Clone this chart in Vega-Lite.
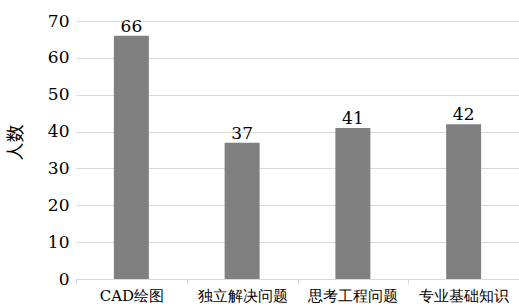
{
  "$schema": "https://vega.github.io/schema/vega-lite/v6.json",
  "autosize": "none",
  "padding": {"left": 76, "top": 21, "right": 0, "bottom": 28},
  "width": 443,
  "height": 258,
  "background": "white",
  "config": {"view": {"stroke": null}, "font": "DejaVu Serif"},
  "data": {"values": [
    {"category": "CAD绘图", "count": 66},
    {"category": "独立解决问题", "count": 37},
    {"category": "思考工程问题", "count": 41},
    {"category": "专业基础知识", "count": 42}
  ]},
  "encoding": {
    "x": {"field": "category", "type": "nominal", "sort": null,
      "scale": {"paddingInner": 0, "paddingOuter": 0},
      "axis": {"title": null, "labelAngle": 0, "labelFontSize": 15, "labelColor": "#000", "labelFont": "DejaVu Serif",
        "domainColor": "#d9d9d9", "tickColor": "#d9d9d9", "tickBand": "extent", "tickSize": 5, "labelPadding": 4, "grid": false}},
    "y": {"field": "count", "type": "quantitative",
      "scale": {"domain": [0, 70], "nice": false},
      "axis": {"title": "人数", "titleFontSize": 18, "titleFontWeight": "normal", "titleColor": "#000", "titleFont": "Noto Sans CJK SC", "titlePadding": 22, "titleY": 121,
        "values": [0,10,20,30,40,50,60,70], "labelFontSize": 17, "labelColor": "#000", "labelPadding": 7, "labelFont": "DejaVu Serif",
        "domain": false, "ticks": false, "gridColor": "#d9d9d9", "gridWidth": 1}}
  },
  "layer": [
    {"mark": {"type": "bar", "size": 35, "color": "#808080"}},
    {"mark": {"type": "text", "baseline": "bottom", "dy": 0, "fontSize": 17, "color": "#000", "font": "DejaVu Serif"},
     "encoding": {"text": {"field": "count", "type": "quantitative"}}}
  ]
}
